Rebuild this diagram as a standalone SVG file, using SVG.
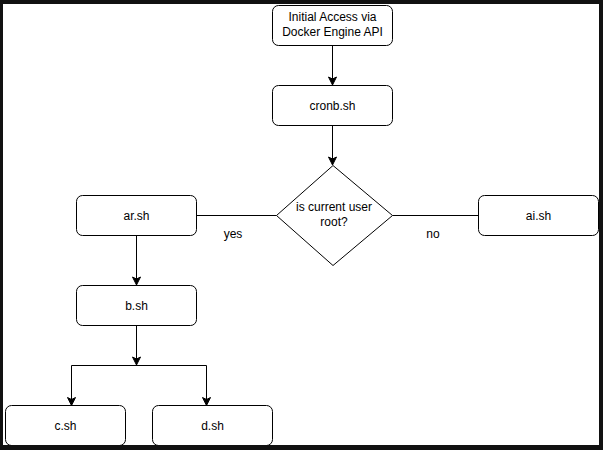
<svg xmlns="http://www.w3.org/2000/svg" width="603" height="450" viewBox="0 0 603 450">
<style>
.box{fill:#fff;stroke:#000;stroke-width:1}
.t{font-family:"Liberation Sans",Arial,Helvetica,sans-serif;font-size:12px;fill:#000;text-anchor:middle}
.e{fill:none;stroke:#000;stroke-width:1}
</style>
<defs>
<marker id="arr" markerUnits="userSpaceOnUse" markerWidth="10" markerHeight="10" viewBox="0 0 10 10" refX="9" refY="5" orient="auto">
<path d="M1,1 L9,5 L1,9 L3,5 Z" fill="#000" stroke="#000" stroke-width="1"/>
</marker>
</defs>
<rect x="0" y="0" width="603" height="450" fill="#111"/>
<rect x="3" y="4" width="596" height="441" fill="#fff"/>
<g id="connectors">
<path class="e" d="M332.5,45.5 L332.5,85" marker-end="url(#arr)"/>
<path class="e" d="M332.5,125.5 L332.5,165" marker-end="url(#arr)"/>
<path class="e" d="M196.5,215.5 L276.5,215.5"/>
<path class="e" d="M392.5,215.5 L478.5,215.5"/>
<path class="e" d="M136.5,235.5 L136.5,285" marker-end="url(#arr)"/>
<path class="e" d="M136.5,325.5 L136.5,365" marker-end="url(#arr)"/>
<path class="e" d="M71.5,405 L71.5,365.5 L206.5,365.5 L206.5,405"/>
<path class="e" d="M71.5,395 L71.5,405.5" marker-end="url(#arr)"/>
<path class="e" d="M206.5,395 L206.5,405.5" marker-end="url(#arr)"/>
<text class="t" x="233" y="238">yes</text>
<text class="t" x="433" y="238">no</text>
</g>
<g id="initial">
<rect class="box" x="272.5" y="5.5" width="120" height="40" rx="6"/>
<text class="t" x="332.5" y="21">Initial Access via</text>
<text class="t" x="332.5" y="36">Docker Engine API</text>
</g>
<g id="cronb">
<rect class="box" x="272.5" y="85.5" width="120" height="40" rx="6"/>
<text class="t" x="332.5" y="109.5">cronb.sh</text>
</g>
<g id="decision">
<polygon class="box" points="333,165.5 392.5,215.5 333,265.5 276.5,215.5"/>
<text class="t" x="334" y="211">is current user</text>
<text class="t" x="334" y="226">root?</text>
</g>
<g id="ar">
<rect class="box" x="76.5" y="195.5" width="120" height="40" rx="6"/>
<text class="t" x="136.5" y="219.5">ar.sh</text>
</g>
<g id="ai">
<rect class="box" x="478.5" y="195.5" width="120" height="40" rx="6"/>
<text class="t" x="538.5" y="219.5">ai.sh</text>
</g>
<g id="b">
<rect class="box" x="76.5" y="285.5" width="120" height="40" rx="6"/>
<text class="t" x="136.5" y="309.5">b.sh</text>
</g>
<g id="c">
<rect class="box" x="5.5" y="405.5" width="120" height="40" rx="6"/>
<text class="t" x="65.5" y="429.5">c.sh</text>
</g>
<g id="d">
<rect class="box" x="152.5" y="405.5" width="120" height="40" rx="6"/>
<text class="t" x="212.5" y="429.5">d.sh</text>
</g>
<rect x="0" y="445" width="603" height="5" fill="#111"/>
<rect x="599" y="0" width="4" height="450" fill="#111"/>
</svg>
